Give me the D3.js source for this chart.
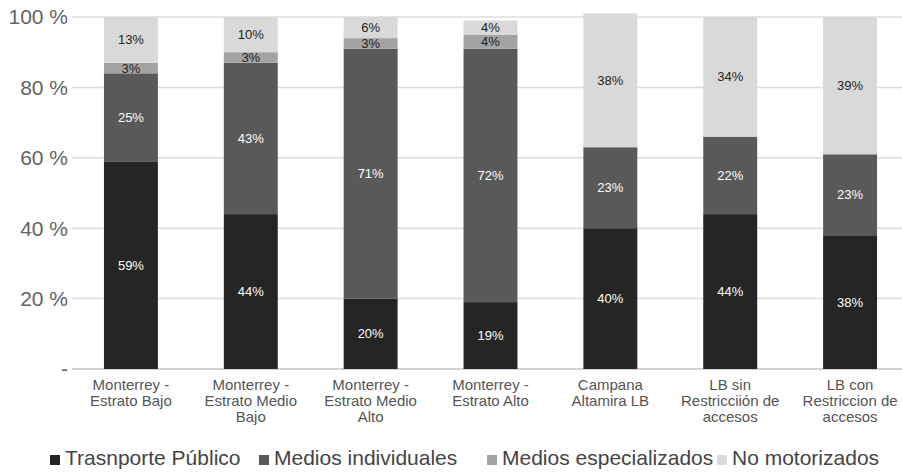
<!DOCTYPE html>
<html>
<head>
<meta charset="utf-8">
<script src="https://cdn.jsdelivr.net/npm/d3@7"></script>
<style>
  body { margin: 0; background: #fff; }
  svg { font-family: "Liberation Sans", Arial, sans-serif; }
</style>
</head>
<body>
<div id="chart"></div>
<script>
  // data
  var categories = [
    ['Monterrey -', 'Estrato Bajo'],
    ['Monterrey -', 'Estrato Medio', 'Bajo'],
    ['Monterrey -', 'Estrato Medio', 'Alto'],
    ['Monterrey -', 'Estrato Alto'],
    ['Campana', 'Altamira LB'],
    ['LB sin', 'Restricciión de', 'accesos'],
    ['LB con', 'Restriccion de', 'accesos']
  ];
  var seriesNames = ['Trasnporte Público', 'Medios individuales', 'Medios especializados', 'No motorizados'];
  var transportePublico = [59, 44, 20, 19, 40, 44, 38];
  var mediosIndividuales = [25, 43, 71, 72, 23, 22, 23];
  var mediosEspecializados = [3, 3, 3, 4, 0, 0, 0];
  var noMotorizados = [13, 10, 6, 4, 38, 34, 39];
  var yTicks = [0, 20, 40, 60, 80, 100];
  var tickLabels = ['-', '20 %', '40 %', '60 %', '80 %', '100 %'];

  var colors = ['#252525', '#595959', '#a3a3a3', '#d9d9d9'];
  var textColors = ['#fff', '#fff', '#222', '#222'];

  var width = 902, height = 473;
  var svg = d3.select('#chart').append('svg')
      .attr('width', width)
      .attr('height', height);

  var x = d3.scaleBand()
      .domain(d3.range(categories.length))
      .range([71, 910])
      .paddingInner(0.55)
      .paddingOuter(0.275);

  var y = d3.scaleLinear().domain([0, 100]).range([369, 17]);

  // gridlines
  svg.append('g').selectAll('line')
      .data(yTicks)
      .enter().append('line')
      .attr('x1', 72).attr('x2', width)
      .attr('y1', function (d) { return y(d); })
      .attr('y2', function (d) { return y(d); })
      .attr('stroke', function (d) { return d === 0 ? '#c4c4c4' : '#dcdcdc'; })
      .attr('stroke-width', 1.5);

  // y tick labels
  svg.append('g').selectAll('text')
      .data(yTicks)
      .enter().append('text')
      .attr('x', 68)
      .attr('y', function (d) { return y(d); })
      .attr('dy', '0.35em')
      .attr('text-anchor', 'end')
      .attr('fill', '#636363')
      .style('font-size', '21px')
      .text(function (d, i) { return tickLabels[i]; });

  // stack
  var rows = categories.map(function (c, i) {
    return {
      i: i,
      s0: transportePublico[i],
      s1: mediosIndividuales[i],
      s2: mediosEspecializados[i],
      s3: noMotorizados[i]
    };
  });
  var stacked = d3.stack().keys(['s0', 's1', 's2', 's3'])(rows);

  var layers = svg.append('g').selectAll('g.layer')
      .data(stacked)
      .enter().append('g')
      .attr('class', 'layer');

  layers.selectAll('rect')
      .data(function (layer) { return layer.map(function (d) { return { k: layer.index, d: d }; }); })
      .enter().append('rect')
      .attr('x', function (e) { return x(e.d.data.i); })
      .attr('width', x.bandwidth())
      .attr('y', function (e) { return y(e.d[1]); })
      .attr('height', function (e) { return y(e.d[0]) - y(e.d[1]); })
      .attr('fill', function (e) { return colors[e.k]; });

  layers.selectAll('text')
      .data(function (layer) {
        return layer.map(function (d) { return { k: layer.index, d: d }; })
                    .filter(function (e) { return e.d[1] - e.d[0] > 0; });
      })
      .enter().append('text')
      .attr('x', function (e) { return x(e.d.data.i) + x.bandwidth() / 2; })
      .attr('y', function (e) { return y((e.d[0] + e.d[1]) / 2); })
      .attr('dy', '0.35em')
      .attr('text-anchor', 'middle')
      .attr('fill', function (e) { return textColors[e.k]; })
      .style('font-size', '13px')
      .text(function (e) { return (e.d[1] - e.d[0]) + '%'; });

  // x labels
  var xl = svg.append('g').selectAll('text')
      .data(categories)
      .enter().append('text')
      .attr('x', function (d, i) { return x(i) + x.bandwidth() / 2; })
      .attr('y', 390)
      .attr('text-anchor', 'middle')
      .attr('fill', '#555')
      .style('font-size', '15px');
  xl.selectAll('tspan')
      .data(function (d) { return d; })
      .enter().append('tspan')
      .attr('x', function () { return d3.select(this.parentNode).attr('x'); })
      .attr('dy', function (d, j) { return j === 0 ? 0 : 16; })
      .text(function (d) { return d; });

  // legend
  var legendX = [50, 259, 487, 717];
  var legend = svg.append('g').selectAll('g')
      .data(seriesNames)
      .enter().append('g')
      .attr('transform', function (d, i) { return 'translate(' + legendX[i] + ',465)'; });
  legend.append('rect')
      .attr('x', 0).attr('y', -10)
      .attr('width', 10).attr('height', 10)
      .attr('fill', function (d, i) { return colors[i]; });
  legend.append('text')
      .attr('x', 15)
      .attr('fill', '#444')
      .style('font-size', '21px')
      .text(function (d) { return d; });
</script>
</body>
</html>
